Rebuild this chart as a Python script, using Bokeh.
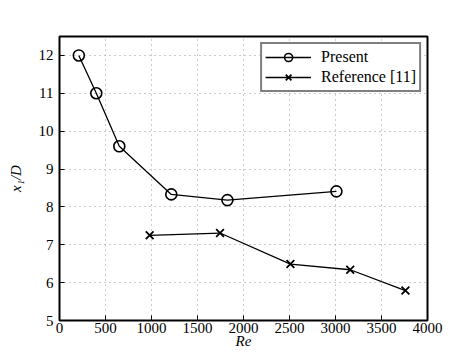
from bokeh.plotting import figure
from bokeh.models import Range1d, Legend, LegendItem, FixedTicker
from bokeh.embed import file_html
from bokeh.resources import INLINE

# Data
present_re = [210, 400, 650, 1215, 1825, 3010]
present_x1 = [12.0, 11.0, 9.6, 8.33, 8.18, 8.41]
ref_re = [980, 1745, 2510, 3160, 3760]
ref_x1 = [7.25, 7.31, 6.49, 6.34, 5.79]
x_ticks = [0, 500, 1000, 1500, 2000, 2500, 3000, 3500, 4000]
y_ticks = [5, 6, 7, 8, 9, 10, 11, 12]

FONT = "Liberation Serif"

p = figure(width=474, height=355, output_backend="svg", toolbar_location=None,
           x_range=Range1d(0, 4000), y_range=Range1d(5, 12.5),
           min_border_left=59, min_border_right=47, min_border_top=36, min_border_bottom=35)
p.background_fill_color = "white"
p.border_fill_color = "white"
p.outline_line_color = "black"
p.outline_line_width = 2

for ax in (p.xaxis[0], p.yaxis[0]):
    ax.axis_line_color = None
    ax.major_tick_in = 5
    ax.major_tick_out = 0
    ax.minor_tick_line_color = None
    ax.major_tick_line_color = "black"
    ax.major_tick_line_width = 1
    ax.major_label_text_font = FONT
    ax.major_label_text_font_size = "15px"
    ax.major_label_text_color = "black"
    ax.axis_label_text_font = FONT
    ax.axis_label_text_font_size = "15px"
    ax.axis_label_text_font_style = "italic"
    ax.axis_label_text_color = "black"

p.xaxis.ticker = FixedTicker(ticks=x_ticks)
p.yaxis.ticker = FixedTicker(ticks=y_ticks)
p.xaxis.major_label_standoff = 2
p.yaxis.major_label_standoff = 6
p.xaxis.axis_label = "Re"
p.xaxis.axis_label_standoff = -3
p.yaxis.axis_label = "x₁/D"
p.yaxis.axis_label_standoff = 12

p.xgrid.ticker = FixedTicker(ticks=x_ticks)
p.ygrid.ticker = FixedTicker(ticks=y_ticks)
for g in (p.xgrid[0], p.ygrid[0]):
    g.grid_line_color = "#999999"
    g.grid_line_dash = "1 4"
    g.grid_line_width = 1

l1 = p.line(present_re, present_x1, line_color="black", line_width=1.3)
s1 = p.scatter(present_re, present_x1, marker="circle", size=11, fill_color=None,
               line_color="black", line_width=1.6)
l2 = p.line(ref_re, ref_x1, line_color="black", line_width=1.3)
s2 = p.scatter(ref_re, ref_x1, marker="x", size=11, line_color="black", line_width=1.8)

legend = Legend(items=[LegendItem(label="Present", renderers=[l1, s1]),
                       LegendItem(label="Reference [11]", renderers=[l2, s2])],
                location="top_right")
legend.label_text_font = FONT
legend.label_text_font_size = "16px"
legend.label_text_color = "black"
legend.border_line_color = "black"
legend.border_line_width = 2
legend.background_fill_alpha = 1
legend.glyph_width = 46
legend.spacing = 0
legend.padding = 3
legend.margin = 6
legend.label_standoff = 10
p.add_layout(legend)

open("out.html", "w").write(file_html(p, INLINE))
